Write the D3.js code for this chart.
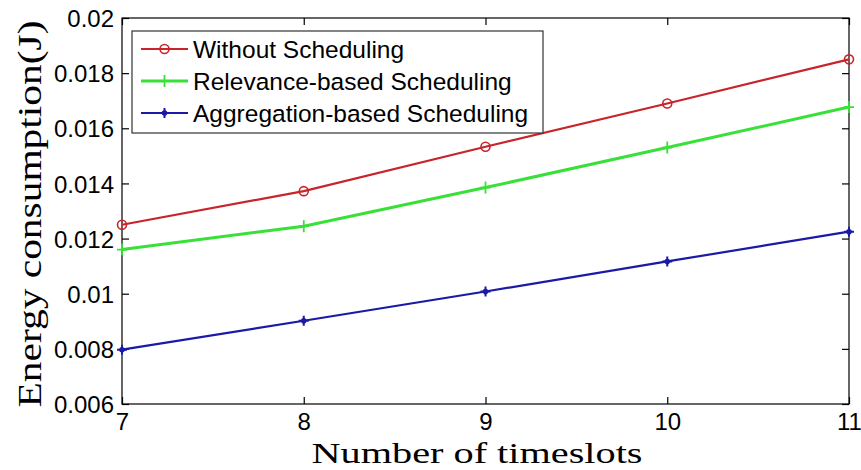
<!DOCTYPE html>
<html><head><meta charset="utf-8">
<script src="https://cdn.jsdelivr.net/npm/d3@7"></script>
<style>body{margin:0;background:#fff}</style>
</head><body>
<script>
const timeslots = [7, 8, 9, 10, 11];
const withoutScheduling = [0.01250, 0.01372, 0.01533, 0.01690, 0.01850];
const relevanceScheduling = [0.01160, 0.01245, 0.01385, 0.01530, 0.01677];
const aggregationScheduling = [0.00797, 0.00902, 0.01008, 0.01117, 0.01225];
const seriesNames = ["Without Scheduling", "Relevance-based Scheduling", "Aggregation-based Scheduling"];
const yTicks = [0.006, 0.008, 0.01, 0.012, 0.014, 0.016, 0.018, 0.02];
const xTicks = [7, 8, 9, 10, 11];

const W = 861, H = 470;
const m = {l: 122, r: 849, t: 18, b: 404};
const svg = d3.select("body").append("svg").attr("width", W).attr("height", H);
const x = d3.scaleLinear().domain([7, 11]).range([m.l, m.r]);
const y = d3.scaleLinear().domain([0.006, 0.02]).range([m.b, m.t]);

const tickFont = "Liberation Sans, Arial, sans-serif";
const serif = "Liberation Serif, Times New Roman, serif";
svg.append("rect").attr("x", m.l).attr("y", m.t).attr("width", m.r - m.l).attr("height", m.b - m.t)
  .attr("fill", "none").attr("stroke", "#000").attr("stroke-width", 1.2);

const axL = svg.append("g").attr("transform", `translate(${m.l},0)`)
  .call(d3.axisLeft(y).tickValues(yTicks).tickSize(-7).tickPadding(8).tickFormat(d => String(+d.toFixed(3))));
const axR = svg.append("g").attr("transform", `translate(${m.r},0)`)
  .call(d3.axisRight(y).tickValues(yTicks).tickSize(-7).tickFormat(""));
const axB = svg.append("g").attr("transform", `translate(0,${m.b})`)
  .call(d3.axisBottom(x).tickValues(xTicks).tickSize(-7).tickPadding(9).tickFormat(d3.format("d")));
const axT = svg.append("g").attr("transform", `translate(0,${m.t})`)
  .call(d3.axisTop(x).tickValues(xTicks).tickSize(-7).tickFormat(""));
[axL, axR, axB, axT].forEach(g => {
  g.select(".domain").remove();
  g.selectAll(".tick line").attr("stroke", "#000").attr("stroke-width", 1.2);
  g.selectAll("text").attr("fill", "#000").style("font-family", tickFont).style("font-size", "24px");
});
axL.selectAll("text").attr("dy", "0.36em");

const series = [
  {name: seriesNames[0], vals: withoutScheduling, color: "#c8242b", marker: "circle"},
  {name: seriesNames[1], vals: relevanceScheduling, color: "#38e038", marker: "plus"},
  {name: seriesNames[2], vals: aggregationScheduling, color: "#1a1aa6", marker: "star"}
];

function drawMarker(g, type, color, cx, cy) {
  if (type === "circle") {
    g.append("circle").attr("cx", cx).attr("cy", cy).attr("r", 4.5)
      .attr("fill", "none").attr("stroke", color).attr("stroke-width", 1.6);
  } else if (type === "plus") {
    g.append("path").attr("d", `M${cx-5},${cy}H${cx+5}M${cx},${cy-6}V${cy+6}`)
      .attr("stroke", color).attr("stroke-width", 1.8);
  } else {
    g.append("path").attr("d", `M${cx-5},${cy}H${cx+5}M${cx},${cy-5}V${cy+5}`)
      .attr("stroke", color).attr("stroke-width", 2);
    g.append("circle").attr("cx", cx).attr("cy", cy).attr("r", 2.8).attr("fill", color);
  }
}

const line = d3.line().x((d, i) => x(timeslots[i])).y(d => y(d));
series.forEach(s => {
  svg.append("path").datum(s.vals).attr("d", line).attr("fill", "none")
    .attr("stroke", s.color).attr("stroke-width", s.marker === "plus" ? 3 : 2.2);
  const g = svg.append("g");
  s.vals.forEach((v, i) => drawMarker(g, s.marker, s.color, x(timeslots[i]), y(v)));
});

// legend
const lg = svg.append("g");
lg.append("rect").attr("x", 132).attr("y", 31).attr("width", 411).attr("height", 102)
  .attr("fill", "#fff").attr("stroke", "#333").attr("stroke-width", 1.2);
series.forEach((s, i) => {
  const cy = 49 + i * 32;
  lg.append("line").attr("x1", 141).attr("x2", 188).attr("y1", cy).attr("y2", cy)
    .attr("stroke", s.color).attr("stroke-width", s.marker === "plus" ? 3 : 2.2);
  drawMarker(lg, s.marker, s.color, 164.5, cy);
  lg.append("text").attr("x", 193).attr("y", cy).attr("dy", "0.36em").text(s.name)
    .style("font-family", tickFont).style("font-size", "24.5px").attr("fill", "#000");
});

// axis titles
svg.append("text").attr("x", 477).attr("y", 463).attr("text-anchor", "middle")
  .attr("textLength", 331).attr("lengthAdjust", "spacingAndGlyphs")
  .style("font-family", serif).style("font-size", "30px")
  .text("Number of timeslots");
svg.append("text").attr("transform", `translate(41,214) rotate(-90)`)
  .attr("text-anchor", "middle")
  .attr("textLength", 387).attr("lengthAdjust", "spacingAndGlyphs")
  .style("font-family", serif).style("font-size", "33px")
  .text("Energy consumption(J)");
</script>
</body></html>
